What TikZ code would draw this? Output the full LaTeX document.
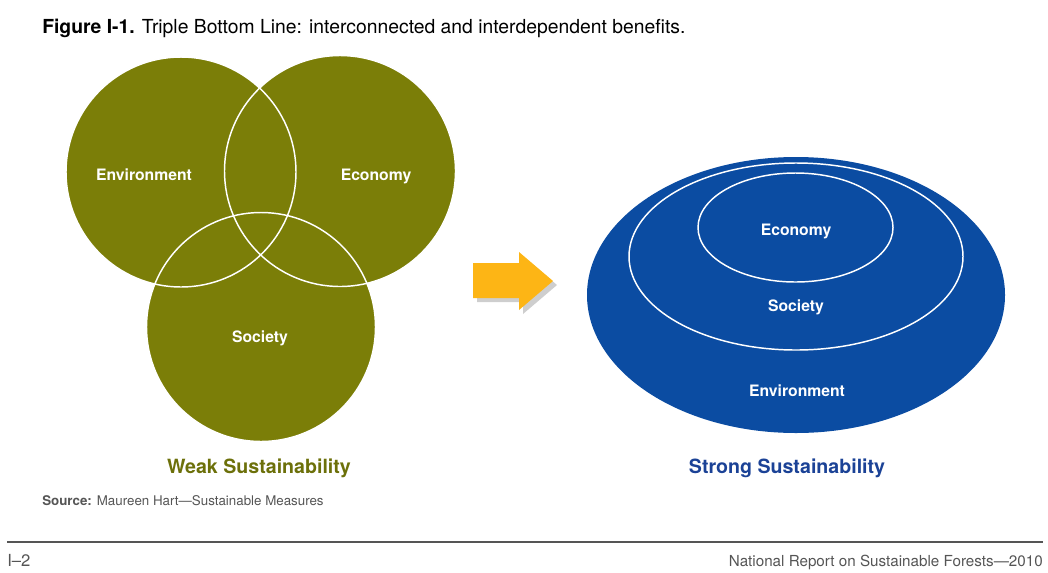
\documentclass[tikz,border=0pt]{standalone}
\usepackage{fontspec}
\setmainfont{TeX Gyre Heros}
\definecolor{venngreen}{RGB}{123,126,8}
\definecolor{weakgreen}{RGB}{108,112,10}
\definecolor{nestblue}{RGB}{11,76,162}
\definecolor{strongblue}{RGB}{27,66,150}
\definecolor{arrowgold}{RGB}{253,181,21}
\definecolor{notegray}{RGB}{85,85,85}
\begin{document}
\begin{tikzpicture}[x={(.75pt,0pt)},y={(0pt,-.75pt)},every node/.style={font=\fontsize{11.8}{13}\selectfont\bfseries,text=white,inner sep=0pt},
    caption/.style={font=\fontsize{14.7}{16}\selectfont\bfseries},
    footnote/.style={font=\fontsize{11.4}{13}\selectfont,text=notegray,anchor=base west}]
    \useasboundingbox (0,0) rectangle (1048,572);
    % title
    \node[anchor=base west,text=black,font=\fontsize{14.5}{16}\selectfont] (title) at (42,33) {\textbf{Figure I-1.} Triple Bottom Line: interconnected and interdependent benefits.};
    % weak sustainability: three overlapping circles
    \foreach \cx/\cy/\rr in {181/172/115,340/171/115.5,261/327/114.5} {
        \fill[venngreen] (\cx,\cy) circle[radius=\rr];
    }
    \foreach \cx/\cy/\rr in {181/172/115,340/171/115.5,261/327/114.5} {
        \draw[white,line width=1.1pt] (\cx,\cy) circle[radius=\rr];
    }
    \node (wenv) at (144,175) {Environment};
    \node (weco) at (376,176) {Economy};
    \node (wsoc) at (260,338) {Society};
    \node[caption,text=weakgreen] (weak) at (259,468) {Weak Sustainability};
    % arrow with shadow
    \fill[gray!55,opacity=.7] (477,267) -- (523,267) -- (523,256) -- (557,285) -- (523,314) -- (523,302) -- (477,302) -- cycle;
    \fill[arrowgold] (473,263) -- (519,263) -- (519,252) -- (553,281) -- (519,310) -- (519,298) -- (473,298) -- cycle;
    % strong sustainability: nested ellipses
    \fill[nestblue] (796,295) ellipse[x radius=209,y radius=138];
    \draw[white,line width=1.1pt] (796,256.5) ellipse[x radius=167,y radius=93.5];
    \draw[white,line width=1.1pt] (795.5,227.5) ellipse[x radius=97.5,y radius=54.5];
    \node (seco) at (796,231) {Economy};
    \node (ssoc) at (796,307) {Society};
    \node (senv) at (797,391) {Environment};
    \node[caption,text=strongblue] (strong) at (787,468) {Strong Sustainability};
    % source and footer
    \node[footnote,font=\fontsize{10}{12}\selectfont] (source) at (42,505) {\textbf{Source:} Maureen Hart—Sustainable Measures};
    \draw[notegray,line width=.8pt] (7,542) -- (1043,542);
    \node[footnote,font=\fontsize{12.5}{14}\selectfont] (page) at (7,566) {I–2};
    \node[footnote,anchor=base east] (report) at (1043,566) {National Report on Sustainable Forests—2010};
\end{tikzpicture}
\end{document}
